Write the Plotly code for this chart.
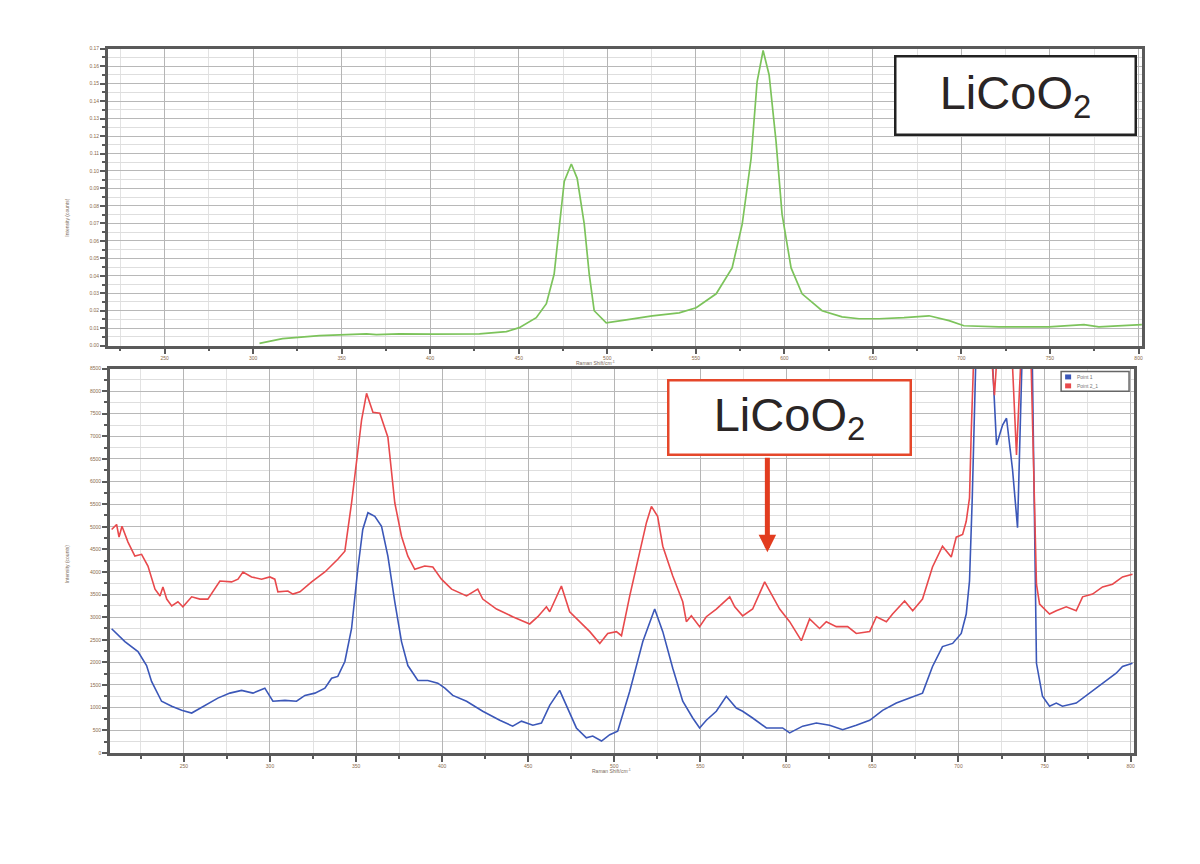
import plotly.graph_objects as go

# ---------------- data ----------------
# Top panel: LiCoO2 reference spectrum (Raman shift cm-1, intensity)
ref_shift = [303.6, 316.6, 337.5, 350.4, 364.0, 369.6, 382.6, 401.2, 427.8, 443.0,
             450.3, 459.9, 465.6, 470.0, 472.9, 475.7, 479.7, 483.0, 487.0, 489.8,
             492.6, 499.4, 510.7, 525.4, 540.6, 550.2, 561.5, 570.5, 576.2, 581.2,
             584.6, 588.0, 591.4, 595.3, 598.7, 603.8, 610.0, 621.3, 632.6, 642.2,
             653.5, 667.6, 681.7, 693.0, 701.4, 721.2, 749.4, 769.2, 777.6, 801.9]
ref_int = [0.0013, 0.0040, 0.0057, 0.0063, 0.0068, 0.0063, 0.0068, 0.0066, 0.0068, 0.0080,
           0.0103, 0.0160, 0.0240, 0.0410, 0.0696, 0.0940, 0.1040, 0.0958, 0.0696, 0.0410,
           0.0200, 0.0131, 0.0148, 0.0171, 0.0188, 0.0217, 0.0297, 0.0445, 0.0696, 0.1070,
           0.1510, 0.1690, 0.1550, 0.1170, 0.0753, 0.0445, 0.0297, 0.0200, 0.0165, 0.0154,
           0.0154, 0.0160, 0.0171, 0.0143, 0.0114, 0.0108, 0.0108, 0.0120, 0.0108, 0.0120]

# Bottom panel: sample spectra
red_shift = [208.0, 210.9, 212.3, 214.0, 217.5, 221.5, 225.4, 229.1, 233.2, 236.1,
             237.8, 240.0, 242.9, 246.5, 249.4, 254.5, 259.3, 263.9, 270.9, 277.7,
             281.4, 284.3, 289.3, 295.1, 299.9, 302.8, 304.6, 310.4, 313.3, 317.4,
             324.2, 331.9, 339.4, 343.5, 347.4, 350.3, 353.2, 356.1, 358.0, 359.8,
             363.8, 368.5, 372.5, 376.4, 380.1, 384.1, 389.9, 394.6, 399.6, 405.5,
             414.2, 420.7, 423.6, 431.6, 441.0, 450.9, 455.6, 460.6, 462.5, 469.3,
             474.1, 480.0, 485.8, 491.6, 496.2, 501.3, 504.2, 509.0, 514.8, 518.7,
             521.6, 525.2, 528.2, 534.0, 539.8, 541.9, 544.8, 549.6, 553.5, 559.3,
             567.1, 570.0, 574.6, 580.4, 587.4, 592.0, 596.1, 601.9, 607.7, 608.7,
             613.5, 619.3, 623.2, 629.0, 635.6, 640.6, 648.4, 652.3, 658.1, 661.7,
             668.7, 673.4, 679.1, 684.9, 690.7, 695.8, 698.7, 702.4, 704.5, 706.4,
             707.4, 708.2, 709.9, 716.9, 720.9, 724.4, 729.7, 733.7, 737.8, 741.3,
             744.2, 745.3, 747.1, 752.9, 756.8, 762.6, 768.4, 772.1, 777.9, 783.7,
             789.5, 795.3, 801.1]
red_int = [4940, 5050, 4770, 5010, 4660, 4350, 4390, 4130, 3620, 3470,
           3670, 3400, 3250, 3340, 3230, 3450, 3400, 3400, 3800, 3780,
           3840, 4000, 3890, 3840, 3890, 3840, 3560, 3580, 3510, 3560,
           3780, 4000, 4280, 4460, 5530, 6410, 7360, 7950, 7750, 7530,
           7510, 6980, 5530, 4790, 4350, 4060, 4130, 4110, 3840, 3620,
           3470, 3620, 3400, 3180, 3010, 2850, 3010, 3230, 3120, 3690,
           3120, 2900, 2680, 2420, 2640, 2680, 2590, 3470, 4440, 5090,
           5450, 5230, 4570, 3910, 3340, 2900, 3030, 2790, 3010, 3180,
           3450, 3230, 3030, 3180, 3780, 3470, 3180, 2900, 2530, 2480,
           2960, 2750, 2900, 2790, 2790, 2640, 2680, 3010, 2900, 3070,
           3360, 3140, 3400, 4110, 4570, 4330, 4770, 4830, 5120, 5640,
           7090, 8560, 9990, 9990, 7910, 9990, 9990, 6590, 9990, 9990,
           5600, 3730, 3290, 3070, 3140, 3230, 3140, 3450, 3510, 3670,
           3730, 3890, 3950]

blue_shift = [208.0, 215.7, 223.3, 228.3, 231.2, 237.0, 242.9, 248.7, 254.5, 262.2,
              269.7, 276.7, 283.5, 290.1, 297.0, 301.7, 308.7, 315.4, 320.3, 326.1,
              331.9, 335.8, 339.4, 343.5, 347.4, 351.0, 353.9, 356.9, 360.9, 364.8,
              368.5, 372.5, 376.4, 380.1, 385.9, 391.7, 397.5, 401.6, 406.2, 414.2,
              423.6, 433.5, 441.0, 446.1, 452.7, 457.7, 462.5, 468.3, 472.2, 478.0,
              483.8, 487.5, 492.6, 497.4, 502.0, 509.0, 516.6, 523.5, 528.2, 534.0,
              539.8, 545.6, 549.6, 553.5, 559.3, 565.1, 570.9, 574.6, 580.4, 588.4,
              597.8, 601.9, 609.5, 617.4, 625.1, 632.7, 640.6, 648.4, 655.9, 663.9,
              671.6, 679.1, 684.9, 690.7, 696.6, 701.6, 704.5, 706.4, 708.0, 709.3,
              710.5, 718.0, 722.1, 725.6, 727.9, 731.4, 734.3, 737.2, 739.0, 742.4,
              744.2, 745.3, 748.8, 752.9, 756.8, 760.4, 768.4, 776.1, 783.7, 791.6,
              795.3, 801.1]
blue_int = [2745, 2460, 2240, 1930, 1580, 1140, 1030, 940, 880, 1050,
            1210, 1320, 1380, 1320, 1430, 1140, 1160, 1140, 1270, 1320,
            1430, 1650, 1690, 2020, 2750, 4060, 4940, 5310, 5230, 5010,
            4350, 3340, 2460, 1930, 1600, 1600, 1540, 1430, 1270, 1140,
            920, 720, 590, 700, 610, 660, 1050, 1380, 1050, 550,
            330, 370, 260, 400, 480, 1360, 2460, 3180, 2680, 1870,
            1140, 770, 550, 720, 920, 1250, 990, 920, 770, 550,
            550, 440, 590, 660, 610, 510, 610, 720, 940, 1100,
            1210, 1320, 1910, 2350, 2420, 2640, 3070, 3800, 5640, 7840,
            9330, 9990, 6810, 7250, 7400, 6260, 4980, 9110, 9990, 9990,
            4500, 1980, 1250, 1030, 1100, 1030, 1100, 1320, 1540, 1760,
            1910, 1980]

shift_ticks = [250, 300, 350, 400, 450, 500, 550, 600, 650, 700, 750, 800]
series_names = ["Point 1", "Point 2_1"]
label_text = "LiCoO<sub>2</sub>"

# ---------------- figure ----------------
W, H = 1200, 864
OFF = 8  # page body margin in the browser


def px(x):
    return (x - OFF) / W


def py(y):
    return 1 - (y - OFF) / H


GREEN = "#7cc35b"
RED = "#e8494c"
BLUE = "#3b57b8"
AXC = "#5a5a5a"

fig = go.Figure()
fig.add_trace(go.Scatter(x=ref_shift, y=ref_int, mode="lines",
                         line=dict(color=GREEN, width=1.7), showlegend=False,
                         xaxis="x", yaxis="y"))
fig.add_trace(go.Scatter(x=blue_shift, y=blue_int, mode="lines", name=series_names[0],
                         line=dict(color=BLUE, width=1.6), showlegend=False,
                         xaxis="x2", yaxis="y2"))
fig.add_trace(go.Scatter(x=red_shift, y=red_int, mode="lines", name=series_names[1],
                         line=dict(color=RED, width=1.6), showlegend=False,
                         xaxis="x2", yaxis="y2"))

tickfont = dict(size=5, color="#8a6a4a", family="Arial, Liberation Sans")


def xaxis_style(domain, anchor, rng):
    return dict(domain=domain, anchor=anchor, range=rng,
                tickvals=shift_ticks, ticktext=[str(t) for t in shift_ticks],
                ticks="outside", ticklen=6, tickwidth=1.5, tickcolor=AXC,
                tickfont=tickfont,
                showline=True, linecolor=AXC, linewidth=2.5, mirror=True,
                showgrid=True, gridcolor="#b5b5b5", gridwidth=1.2,
                minor=dict(dtick=25, tick0=0, showgrid=True, gridcolor="#e2e2e2",
                           ticks="outside", ticklen=3, tickcolor=AXC),
                zeroline=False)


def yaxis_style(domain, anchor, rng, dtick, fmt):
    return dict(domain=domain, anchor=anchor, range=rng, dtick=dtick, tick0=0,
                tickformat=fmt,
                ticks="outside", ticklen=5, tickwidth=1.5, tickcolor=AXC,
                tickfont=tickfont,
                showline=True, linecolor=AXC, linewidth=2.5, mirror=True,
                showgrid=True, gridcolor="#b8b8b8", gridwidth=1.2,
                minor=dict(dtick=dtick / 2, showgrid=True, gridcolor="#dedede",
                           ticks="outside", ticklen=3, tickcolor=AXC),
                zeroline=False)


fig.update_layout(
    width=W, height=H,
    margin=dict(l=0, r=0, t=0, b=0),
    paper_bgcolor="white", plot_bgcolor="white",
    font=dict(family="Arial, Liberation Sans, sans-serif"),
    showlegend=False,
    xaxis=xaxis_style([px(108), px(1143)], "y", [218, 802]),
    yaxis=yaxis_style([py(345), py(46)], "x", [0, 0.17], 0.01, ".2f"),
    xaxis2=xaxis_style([px(110), px(1135)], "y2", [207, 802]),
    yaxis2=yaxis_style([py(755), py(368)], "x2", [0, 8500], 500, "d"),
)

# custom compact legend (box + colour swatches + names)
shapes = [
    dict(type="rect", xref="paper", yref="paper",
         x0=px(1062), x1=px(1130), y0=py(391), y1=py(371),
         line=dict(color="#666", width=1.5), fillcolor="white"),
    dict(type="rect", xref="paper", yref="paper",
         x0=px(1066), x1=px(1072), y0=py(379), y1=py(374),
         line=dict(width=0), fillcolor=BLUE),
    dict(type="rect", xref="paper", yref="paper",
         x0=px(1066), x1=px(1072), y0=py(388), y1=py(383),
         line=dict(width=0), fillcolor=RED),
]
fig.update_layout(shapes=shapes)

annotations = [
    # legend labels
    dict(text=series_names[0], x=px(1076), y=py(376.5), xref="paper", yref="paper",
         xanchor="left", yanchor="middle", showarrow=False,
         font=dict(size=5, color="#777")),
    dict(text=series_names[1], x=px(1076), y=py(385.5), xref="paper", yref="paper",
         xanchor="left", yanchor="middle", showarrow=False,
         font=dict(size=5, color="#777")),
    # axis titles
    dict(text="Raman Shift/cm<sup>-1</sup>", x=px(596), y=py(362), xref="paper", yref="paper",
         showarrow=False, font=dict(size=5, color="#7a6a5a")),
    dict(text="Raman Shift/cm<sup>-1</sup>", x=px(612), y=py(778), xref="paper", yref="paper",
         showarrow=False, font=dict(size=5, color="#7a6a5a")),
    dict(text="Intensity (counts)", x=px(62), y=py(195), xref="paper", yref="paper",
         showarrow=False, textangle=-90, font=dict(size=5, color="#7a6a5a")),
    dict(text="Intensity (counts)", x=px(62), y=py(565), xref="paper", yref="paper",
         showarrow=False, textangle=-90, font=dict(size=5, color="#7a6a5a")),
    # top label box
    dict(text=label_text, x=px(1016), y=py(93), xref="paper", yref="paper",
         showarrow=False, xanchor="center", yanchor="middle",
         width=238, height=76, borderpad=0, borderwidth=2.5, bordercolor="#222",
         bgcolor="white", font=dict(size=47, color="#2a2525")),
    # bottom label box
    dict(text=label_text, x=px(790), y=py(417), xref="paper", yref="paper",
         showarrow=False, xanchor="center", yanchor="middle",
         width=240, height=72, borderpad=0, borderwidth=2.5, bordercolor="#e5472a",
         bgcolor="white", font=dict(size=47, color="#2a2525")),
    # arrow
    dict(text="", x=px(768), y=py(553), xref="paper", yref="paper",
         ax=0, ay=-96, showarrow=True, arrowhead=2, arrowsize=0.7, arrowwidth=5,
         arrowcolor="#e23c1f"),
]
fig.update_layout(annotations=annotations)

fig.write_html("out.html")
